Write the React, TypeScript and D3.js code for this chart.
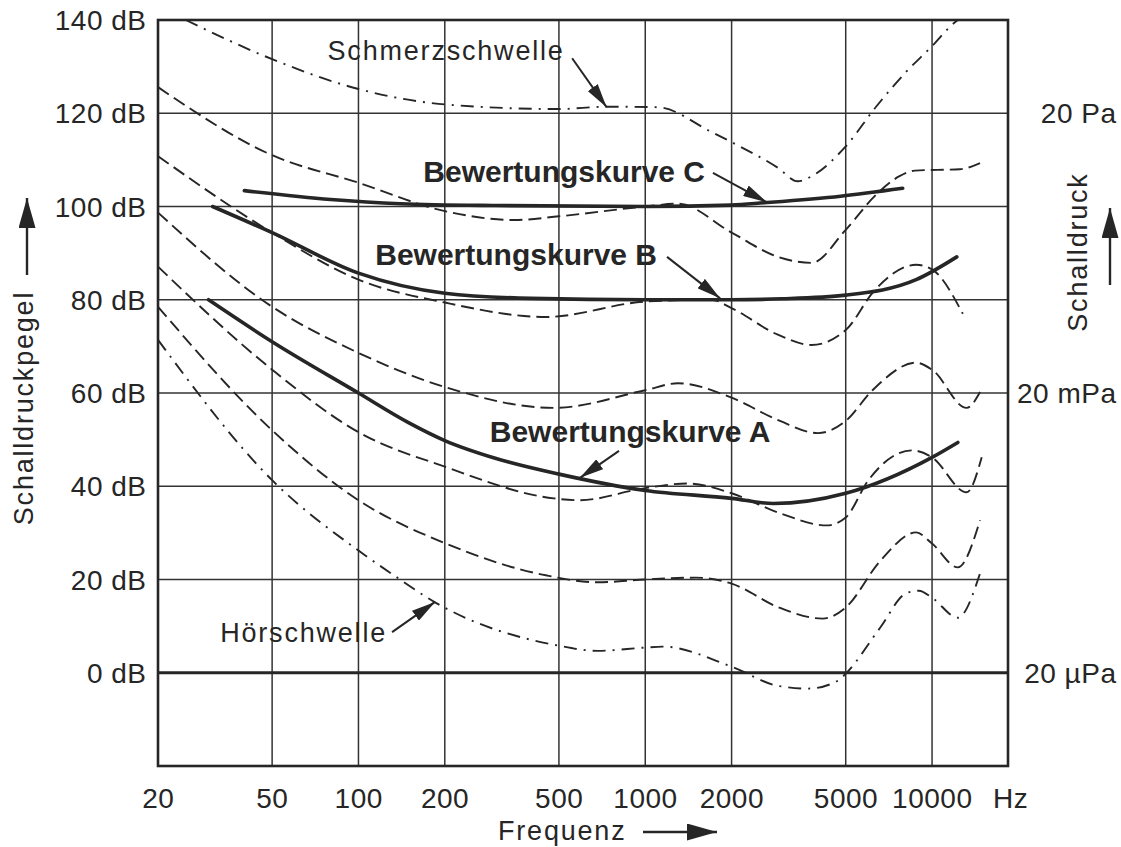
import { useEffect, useRef } from "react";
import * as d3 from "d3";

type Pt = [number, number]; // [Hz, dB]

// axis ticks
const freqGrid = [50, 100, 200, 500, 1000, 2000, 5000, 10000];
const freqTicks = [20, 50, 100, 200, 500, 1000, 2000, 5000, 10000];
const levelTicks = [0, 20, 40, 60, 80, 100, 120, 140];
const pressureLevels = [120, 60, 0];
const pressureLabels = ["20 Pa", "20 mPa", "20 µPa"];

// threshold of pain (dash-dot, top)
const painThreshold: Pt[] = [
  [25, 140], [50, 131.6], [100, 125.2], [200, 121.9], [500, 120.9], [730, 121.4],
  [1100, 121.3], [1700, 116], [2000, 113.8], [2900, 108.3], [3400, 105.4],
  [3900, 106.9], [5000, 112.9], [6400, 121.5], [8100, 128.8], [10000, 134.4],
  [11800, 139.1], [12300, 140],
];

// threshold of hearing (dash-dot, bottom)
const hearingThreshold: Pt[] = [
  [20, 71.4], [50, 41.3], [100, 26.2], [130, 21.3], [185, 15.1], [500, 5.8],
  [680, 4.7], [1000, 5.4], [1150, 5.6], [2000, 1.3], [2900, -2.8], [3700, -3.4],
  [4700, -1.7], [5000, -0.2], [6600, 9.7], [8100, 17], [9000, 17.6], [10000, 16.1],
  [12300, 11.8], [14700, 21.3],
];

// equal loudness contours (dashed)
const phon100: Pt[] = [
  [20, 125.6], [50, 111], [100, 105.1], [200, 99], [350, 97.1], [500, 97.9],
  [1000, 100], [1300, 100.6], [2000, 94.4], [2900, 89.2], [3800, 87.9], [5000, 95],
  [6400, 102.6], [7700, 106.5], [8700, 107.7], [12500, 108], [14700, 109.3],
];
const phon80: Pt[] = [
  [20, 110.8], [50, 94.4], [100, 84.3], [200, 79.4], [450, 76.3], [1000, 79.6],
  [1700, 80], [2000, 78.2], [2900, 72.5], [3800, 70.3], [5000, 73.5], [6300, 82],
  [8800, 87.5], [10000, 86.5], [12800, 77],
];
const phon60: Pt[] = [
  [20, 98.7], [50, 78.5], [100, 68.6], [200, 61.3], [480, 56.8], [1000, 60.6],
  [1300, 62.1], [2000, 59], [2950, 54], [4000, 51.4], [5000, 54], [6200, 60.6],
  [8800, 66.5], [10000, 65], [13200, 56.8], [14700, 60.2],
];
const phon40: Pt[] = [
  [20, 87.1], [50, 65], [100, 51.6], [200, 44.2], [480, 37.4], [590, 37],
  [1000, 39.6], [1400, 40.6], [2000, 38.5], [2950, 34.2], [4300, 31.6], [5000, 33.3],
  [6000, 41.3], [8500, 47.7], [10000, 46.2], [13200, 38.7], [14900, 46.2],
];
const phon20: Pt[] = [
  [20, 78.5], [50, 52], [100, 37], [200, 27.8], [450, 20.9], [680, 19.4],
  [1000, 20], [1500, 20.4], [2000, 19.1], [2950, 13.9], [4150, 11.6], [5000, 14],
  [6600, 24], [8800, 30.1], [10000, 27.7], [12300, 22.6], [14700, 32.7],
];

// weighting curves (solid)
const weightA: Pt[] = [
  [30, 80], [50, 71], [100, 60], [150, 53.6], [200, 49.8], [300, 46], [500, 42.6],
  [1000, 39.1], [2000, 37.4], [2800, 36.3], [5000, 38.5], [10000, 46.2], [12300, 49.4],
];
const weightB: Pt[] = [
  [31, 100], [50, 94.4], [100, 85.7], [200, 81.4], [400, 80.3], [1000, 80],
  [2000, 80], [3000, 80.2], [5000, 81], [8800, 84.3], [12200, 89.2],
];
const weightC: Pt[] = [
  [40, 103.4], [80, 101.5], [140, 100.6], [300, 100.2], [1000, 100], [2000, 100.3],
  [2600, 100.8], [4800, 102.2], [7900, 103.9],
];

// labels with arrows, in [Hz, dB]
const annotations = [
  { text: "Schmerzschwelle", bold: false, at: [516, 131.4] as Pt, anchor: "end", from: [556, 131.8] as Pt, to: [733, 121.3] as Pt },
  { text: "Bewertungskurve C", bold: true, at: [1616, 105.3] as Pt, anchor: "end", from: [1722, 107.2] as Pt, to: [2656, 100.9] as Pt },
  { text: "Bewertungskurve B", bold: true, at: [1099, 87.5] as Pt, anchor: "end", from: [1191, 89.2] as Pt, to: [1824, 80.3] as Pt },
  { text: "Bewertungskurve A", bold: true, at: [287, 49.5] as Pt, anchor: "start", from: [810, 47.6] as Pt, to: [592, 41.8] as Pt },
  { text: "Hörschwelle", bold: false, at: [124, 6.6] as Pt, anchor: "end", from: [131, 8.7] as Pt, to: [185, 15.2] as Pt },
];

const App = () => {
  const ref = useRef<SVGSVGElement>(null);

  useEffect(() => {
    if (!ref.current) return;

    const width = 1121;
    const height = 847;
    const ink = "#262626";
    const font = "'Liberation Sans', Arial, Helvetica, sans-serif";
    const ls = 1.8; // letter spacing of word labels
    const tls = 0.5; // letter spacing of tick labels

    const svg = d3.select(ref.current);
    svg.selectAll("*").remove();
    svg.attr("width", width).attr("height", height);
    svg.append("rect").attr("width", width).attr("height", height).attr("fill", "#fff");

    //step-1 scales
    const x = d3.scaleLog().domain([20, 18400]).range([158, 1008]);
    const y = d3.scaleLinear().domain([-20, 140]).range([766, 20]);
    const [x0, x1] = x.range();
    const [y0, y1] = y.range();

    //step-2 markers
    const defs = svg.append("defs");
    const marker = (id: string, w: number, h: number) =>
      defs
        .append("marker")
        .attr("id", id)
        .attr("viewBox", "0 0 10 10")
        .attr("refX", 10)
        .attr("refY", 5)
        .attr("markerUnits", "userSpaceOnUse")
        .attr("markerWidth", w)
        .attr("markerHeight", h)
        .attr("preserveAspectRatio", "none")
        .attr("orient", "auto")
        .append("path")
        .attr("d", "M0,0L10,5L0,10Z")
        .attr("fill", ink);
    marker("head", 24, 12);
    marker("bighead", 30, 17);

    //step-3 grid
    const grid = svg.append("g").attr("stroke", "#333").attr("stroke-width", 1.5);
    grid
      .selectAll("line.v")
      .data(freqGrid)
      .join("line")
      .attr("x1", (d) => x(d))
      .attr("x2", (d) => x(d))
      .attr("y1", y1)
      .attr("y2", y0);
    grid
      .selectAll("line.h")
      .data(levelTicks.filter((d) => d > 0 && d < 140))
      .join("line")
      .attr("x1", x0)
      .attr("x2", x1)
      .attr("y1", (d) => y(d))
      .attr("y2", (d) => y(d));

    svg
      .append("line")
      .attr("x1", x0)
      .attr("x2", x1)
      .attr("y1", y(0))
      .attr("y2", y(0))
      .attr("stroke", ink)
      .attr("stroke-width", 3.2);

    svg
      .append("rect")
      .attr("x", x0)
      .attr("y", y1)
      .attr("width", x1 - x0)
      .attr("height", y0 - y1)
      .attr("fill", "none")
      .attr("stroke", ink)
      .attr("stroke-width", 2.6);

    //step-4 curves
    const line = d3
      .line<Pt>()
      .x((d) => x(d[0]))
      .y((d) => y(d[1]))
      .curve(d3.curveMonotoneX);

    const curves: { data: Pt[]; dash: string | null; w: number }[] = [
      { data: painThreshold, dash: "13 7 2 7", w: 1.9 },
      { data: hearingThreshold, dash: "13 7 2 7", w: 1.9 },
      { data: phon100, dash: "13 6", w: 1.9 },
      { data: phon80, dash: "13 6", w: 1.9 },
      { data: phon60, dash: "13 6", w: 1.9 },
      { data: phon40, dash: "13 6", w: 1.9 },
      { data: phon20, dash: "13 6", w: 1.9 },
      { data: weightA, dash: null, w: 3.6 },
      { data: weightB, dash: null, w: 3.6 },
      { data: weightC, dash: null, w: 3.6 },
    ];

    svg
      .append("g")
      .attr("fill", "none")
      .attr("stroke", ink)
      .selectAll("path")
      .data(curves)
      .join("path")
      .attr("d", (d) => line(d.data))
      .attr("stroke-width", (d) => d.w)
      .attr("stroke-dasharray", (d) => d.dash)
      .attr("stroke-linecap", (d) => (d.dash ? "butt" : "round"));

    //step-5 annotations
    const ann = svg.append("g");
    annotations.forEach((a) => {
      ann
        .append("text")
        .attr("x", x(a.at[0]) + (a.anchor === "end" && !a.bold ? ls : 0))
        .attr("y", y(a.at[1]))
        .attr("text-anchor", a.anchor)
        .attr("font-family", font)
        .attr("font-size", a.bold ? 30 : 27)
        .attr("font-weight", a.bold ? "bold" : "normal")
        .attr("letter-spacing", a.bold ? 0 : ls)
        .attr("fill", ink)
        .text(a.text);
      ann
        .append("line")
        .attr("x1", x(a.from[0]))
        .attr("y1", y(a.from[1]))
        .attr("x2", x(a.to[0]))
        .attr("y2", y(a.to[1]))
        .attr("stroke", ink)
        .attr("stroke-width", 2)
        .attr("marker-end", "url(#head)");
    });

    //step-6 axis labels
    const ticks = svg
      .append("g")
      .attr("font-family", font)
      .attr("font-size", 28)
      .attr("letter-spacing", tls)
      .attr("fill", ink);

    ticks
      .selectAll("text.l")
      .data(levelTicks)
      .join("text")
      .attr("x", x0 - 12 + tls)
      .attr("y", (d) => y(d))
      .attr("dy", "0.36em")
      .attr("text-anchor", "end")
      .text((d) => `${d} dB`);

    ticks
      .selectAll("text.b")
      .data(freqTicks)
      .join("text")
      .attr("x", (d) => x(d) + tls / 2)
      .attr("y", 808)
      .attr("text-anchor", "middle")
      .text((d) => `${d}`);

    ticks.append("text").attr("x", 993).attr("y", 808).text("Hz");

    ticks
      .selectAll("text.r")
      .data(pressureLevels)
      .join("text")
      .attr("x", 1116 + tls)
      .attr("y", (d) => y(d))
      .attr("dy", "0.36em")
      .attr("text-anchor", "end")
      .text((d, i) => pressureLabels[i]);

    const titles = svg
      .append("g")
      .attr("font-family", font)
      .attr("font-size", 27)
      .attr("letter-spacing", ls)
      .attr("fill", ink);

    titles.append("text").attr("x", 498).attr("y", 840).text("Frequenz");

    titles
      .append("text")
      .attr("transform", "translate(33,408) rotate(-90)")
      .attr("text-anchor", "middle")
      .text("Schalldruckpegel");

    titles
      .append("text")
      .attr("transform", "translate(1087,252) rotate(-90)")
      .attr("text-anchor", "middle")
      .text("Schalldruck");

    //step-7 axis arrows
    const arrows = [
      [643, 832, 717, 832],
      [27, 275, 27, 198],
      [1110, 285, 1110, 208],
    ];
    svg
      .append("g")
      .selectAll("line")
      .data(arrows)
      .join("line")
      .attr("x1", (d) => d[0])
      .attr("y1", (d) => d[1])
      .attr("x2", (d) => d[2])
      .attr("y2", (d) => d[3])
      .attr("stroke", ink)
      .attr("stroke-width", 2.4)
      .attr("marker-end", "url(#bighead)");
  }, []);

  return (
    <svg
      ref={ref}
      style={{ position: "absolute", left: 0, top: 0, display: "block" }}
    />
  );
};

export default App;
